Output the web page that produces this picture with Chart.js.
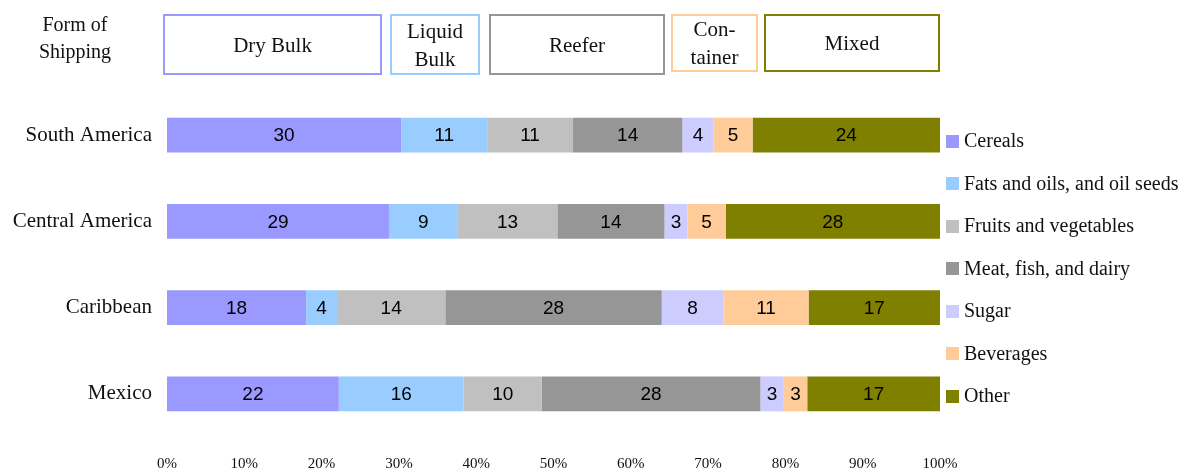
<!DOCTYPE html>
<html>
<head>
<meta charset="utf-8">
<script src="https://cdn.jsdelivr.net/npm/chart.js@4"></script>
<style>
  body { margin: 0; background: #fff; }
  #wrap { position: relative; width: 1189px; height: 468px; }
  #myChart { position: absolute; left: 0; top: 0; }
  .box { position: absolute; box-sizing: border-box; border: 2px solid; display: flex;
         align-items: center; justify-content: center; text-align: center;
         font-family: "Liberation Serif", serif; font-size: 21px; line-height: 28px; color: #111; }
  #formLabel { position: absolute; left: 15px; top: 11px; width: 120px; text-align: center;
               font-family: "Liberation Serif", serif; font-size: 20px; line-height: 27px; color: #111; }
  #legend { position: absolute; left: 946px; top: 0; }
  .item { position: absolute; left: 0; height: 22px; white-space: nowrap; font-family: "Liberation Serif", serif;
          font-size: 20px; line-height: 22px; color: #111; display: flex; align-items: center; }
  .item span.sw { display: inline-block; width: 13px; height: 13px; margin-right: 5px; margin-top: 2px; }
</style>
</head>
<body>
<div id="wrap">
  <canvas id="myChart" width="1189" height="468"></canvas>
  <div id="formLabel">Form of<br>Shipping</div>
  <div id="header"></div>
  <div id="legend"></div>
</div>
<script>
const regions = ['South America', 'Central America', 'Caribbean', 'Mexico'];
const products = ['Cereals', 'Fats and oils, and oil seeds', 'Fruits and vegetables',
  'Meat, fish, and dairy', 'Sugar', 'Beverages', 'Other'];
const colors = ['#9999FF', '#99CCFF', '#C0C0C0', '#969696', '#CCCCFF', '#FFCC99', '#808000'];

// shares in percent, one list per product, in region order
const cereals = [30, 29, 18, 22];
const fatsOils = [11, 9, 4, 16];
const fruitsVeg = [11, 13, 14, 10];
const meatFishDairy = [14, 14, 28, 28];
const sugar = [4, 3, 8, 3];
const beverages = [5, 5, 11, 3];
const other = [24, 28, 17, 17];
const allSeries = [cereals, fatsOils, fruitsVeg, meatFishDairy, sugar, beverages, other];

const xTicks = [0, 10, 20, 30, 40, 50, 60, 70, 80, 90, 100];

// shipping form boxes over the bars
const shipForms = ['Dry Bulk', 'Liquid<br>Bulk', 'Reefer', 'Con-<br>tainer', 'Mixed'];
const shipColors = ['#9999FF', '#99CCFF', '#969696', '#FFCC99', '#808000'];
const shipBoxes = [[163, 14, 219, 61], [390, 14, 90, 61], [489, 14, 176, 61], [671, 14, 87, 58], [764, 14, 176, 58]];

let header = document.getElementById('header');
for (let i = 0; i < shipForms.length; i++) {
  let b = shipBoxes[i];
  header.innerHTML += `<div class="box" style="left:${b[0]}px;top:${b[1]}px;width:${b[2]}px;height:${b[3]}px;border-color:${shipColors[i]}">${shipForms[i]}</div>`;
}

let legend = document.getElementById('legend');
for (let i = 0; i < products.length; i++) {
  legend.innerHTML += `<div class="item" style="top:${129 + i * 42.5}px"><span class="sw" style="background:${colors[i]}"></span>${products[i]}</div>`;
}

// totals per region so every bar fills 100%
let totals = regions.map((r, j) => allSeries.reduce((s, arr) => s + arr[j], 0));

const barLabels = {
  id: 'barLabels',
  afterDatasetsDraw(chart) {
    const ctx = chart.ctx;
    ctx.save();
    ctx.font = '19px "Liberation Sans", Arial, sans-serif';
    ctx.fillStyle = '#000';
    ctx.textAlign = 'center';
    ctx.textBaseline = 'middle';
    chart.data.datasets.forEach((ds, i) => {
      chart.getDatasetMeta(i).data.forEach((bar, j) => {
        ctx.fillText(ds.raw[j], (bar.x + bar.base) / 2, bar.y + 1);
      });
    });
    ctx.restore();
  }
};

const ctx = document.getElementById('myChart');
new Chart(ctx, {
  type: 'bar',
  data: {
    labels: regions,
    datasets: allSeries.map((arr, i) => ({
      label: products[i],
      raw: arr,
      data: arr.map((v, j) => v / totals[j] * 100),
      backgroundColor: colors[i],
      borderWidth: 0,
      barPercentage: 0.405,
      categoryPercentage: 1
    }))
  },
  options: {
    indexAxis: 'y',
    responsive: false,
    animation: false,
    layout: { padding: { top: 92, right: 249, left: 0, bottom: 0 } },
    plugins: { legend: { display: false }, tooltip: { enabled: false } },
    scales: {
      x: {
        stacked: true,
        min: 0,
        max: 100,
        grid: { display: false },
        border: { display: false },
        afterBuildTicks: (axis) => { axis.ticks = xTicks.map(v => ({ value: v })); },
        afterFit: (axis) => { axis.height = 31; },
        ticks: {
          padding: 10,
          color: '#111',
          font: { family: '"Liberation Serif", serif', size: 15 },
          callback: (v) => v + '%'
        }
      },
      y: {
        stacked: true,
        grid: { display: false },
        border: { display: false },
        afterFit: (axis) => { axis.width = 167; },
        ticks: {
          padding: 7,
          color: '#111',
          font: { family: '"Liberation Serif", serif', size: 21 }
        }
      }
    }
  },
  plugins: [barLabels]
});
</script>
</body>
</html>
